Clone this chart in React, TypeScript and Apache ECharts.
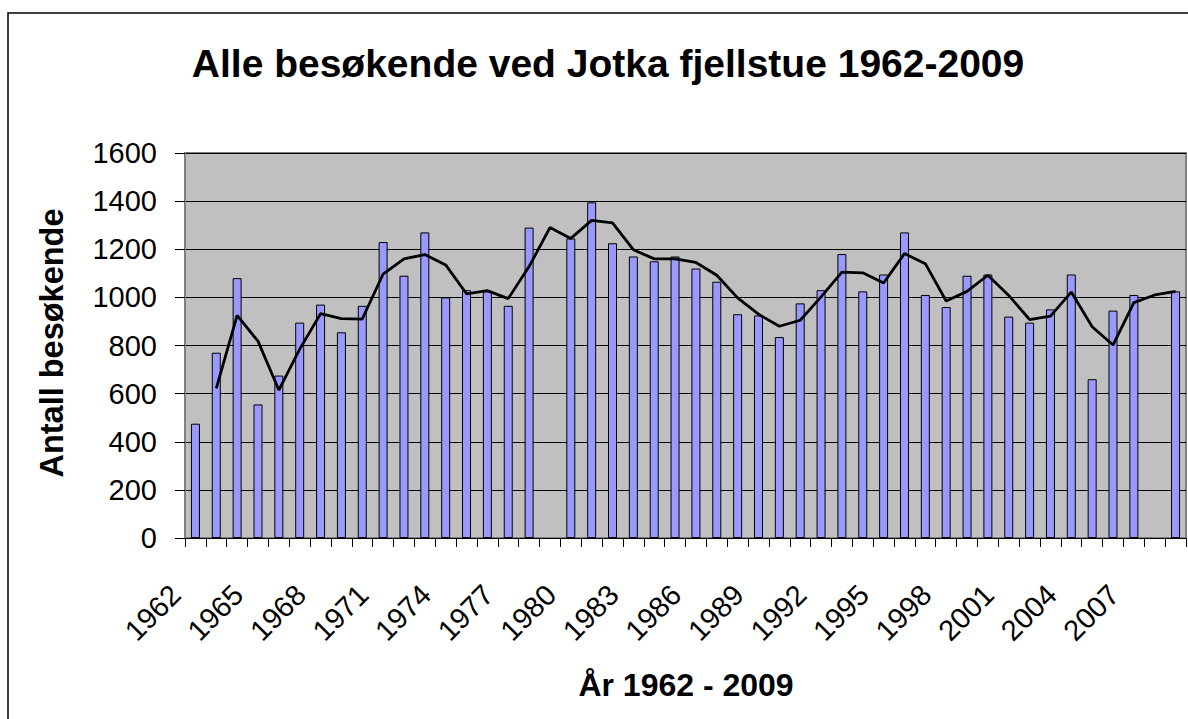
import React, { useEffect, useRef } from "react";
import * as echarts from "echarts";

const years: string[] = [
  "1962","1963","1964","1965","1966","1967","1968","1969","1970","1971",
  "1972","1973","1974","1975","1976","1977","1978","1979","1980","1981",
  "1982","1983","1984","1985","1986","1987","1988","1989","1990","1991",
  "1992","1993","1994","1995","1996","1997","1998","1999","2000","2001",
  "2002","2003","2004","2005","2006","2007","2008","2009",
];

const visitors: (number | null)[] = [
  475, 770, 1080, 555, 675, 895, 970, 855, 965, 1230,
  1090, 1270, 1000, 1030, 1025, 965, 1290, null, 1245, 1395,
  1225, 1170, 1150, 1170, 1120, 1065, 930, 925, 835, 975,
  1030, 1180, 1025, 1095, 1270, 1010, 960, 1090, 1095, 920,
  895, 950, 1095, 660, 945, 1010, null, 1025,
];

const trend: (number | null)[] = [
  null, 622, 925, 818, 615, 785, 932, 912, 910, 1097,
  1160, 1178, 1135, 1015, 1028, 995, 1128, 1290, 1245, 1320,
  1310, 1198, 1160, 1160, 1145, 1092, 998, 930, 880, 905,
  1002, 1105, 1102, 1060, 1182, 1140, 985, 1025, 1092, 1008,
  908, 922, 1022, 878, 802, 978, 1010, 1025,
];

const yTicks = { min: 0, max: 1600, interval: 200 };

const titleText = "Alle besøkende ved Jotka fjellstue 1962-2009";
const xName = "År 1962 - 2009";
const yName = "Antall besøkende";

const FONT = "'Liberation Sans', Arial, sans-serif";

export default function App() {
  const ref = useRef<HTMLDivElement>(null);

  useEffect(() => {
    if (!ref.current) return;
    const chart = echarts.init(ref.current, undefined, { renderer: "svg" });
    chart.setOption({
      animation: false,
      backgroundColor: "#ffffff",
      textStyle: { fontFamily: FONT },
      grid: {
        left: 185,
        top: 153,
        width: 1001,
        height: 385,
        show: true,
        backgroundColor: "#C0C0C0",
        borderColor: "#808080",
        borderWidth: 2,
        containLabel: false,
      },
      xAxis: {
        type: "category",
        data: years,
        boundaryGap: true,
        axisLine: { show: true, lineStyle: { color: "#000", width: 1 } },
        axisTick: {
          show: true,
          interval: 0,
          length: 9,
          inside: false,
          lineStyle: { color: "#000", width: 1 },
        },
        axisLabel: {
          interval: 2,
          rotate: 45,
          margin: 32,
          padding: [0, 28, 0, 0],
          fontSize: 29,
          color: "#000",
          fontFamily: FONT,
        },
        splitLine: { show: false },
      },
      yAxis: {
        type: "value",
        min: yTicks.min,
        max: yTicks.max,
        interval: yTicks.interval,
        axisLine: { show: true, lineStyle: { color: "#808080", width: 1 } },
        axisTick: { show: true, length: 10, lineStyle: { color: "#000", width: 1 } },
        axisLabel: {
          margin: 28,
          fontSize: 29,
          color: "#000",
          fontFamily: FONT,
          formatter: (v: number) => String(v),
        },
        splitLine: { show: true, lineStyle: { color: "#000", width: 1 } },
      },
      series: [
        {
          type: "bar",
          data: visitors,
          barWidth: 9,
          itemStyle: { color: "#9999FF", borderColor: "#000", borderWidth: 1 },
          z: 2,
        },
        {
          type: "line",
          data: trend,
          symbol: "none",
          smooth: false,
          connectNulls: false,
          lineStyle: { color: "#000", width: 2.8 },
          z: 3,
        },
      ],
      graphic: [
        {
          type: "rect",
          shape: { x: 8, y: 13, width: 1400, height: 900 },
          style: { fill: "none", stroke: "#000", lineWidth: 1.5 },
          silent: true,
          z: 100,
        },
        {
          type: "text",
          x: 608,
          y: 63,
          style: {
            text: titleText,
            fontSize: 39,
            fontWeight: "bold",
            fontFamily: FONT,
            fill: "#000",
            textAlign: "center",
            textVerticalAlign: "middle",
          },
        },
        {
          type: "text",
          x: 686,
          y: 685,
          style: {
            text: xName,
            fontSize: 32,
            fontWeight: "bold",
            fontFamily: FONT,
            fill: "#000",
            textAlign: "center",
            textVerticalAlign: "middle",
          },
        },
        {
          type: "text",
          x: 52,
          y: 343,
          rotation: Math.PI / 2,
          style: {
            text: yName,
            fontSize: 32.5,
            fontWeight: "bold",
            fontFamily: FONT,
            fill: "#000",
            textAlign: "center",
            textVerticalAlign: "middle",
          },
        },
      ],
    });
    return () => chart.dispose();
  }, []);

  return (
    <div
      ref={ref}
      style={{ position: "absolute", left: 0, top: 0, width: 1188, height: 719 }}
    />
  );
}
